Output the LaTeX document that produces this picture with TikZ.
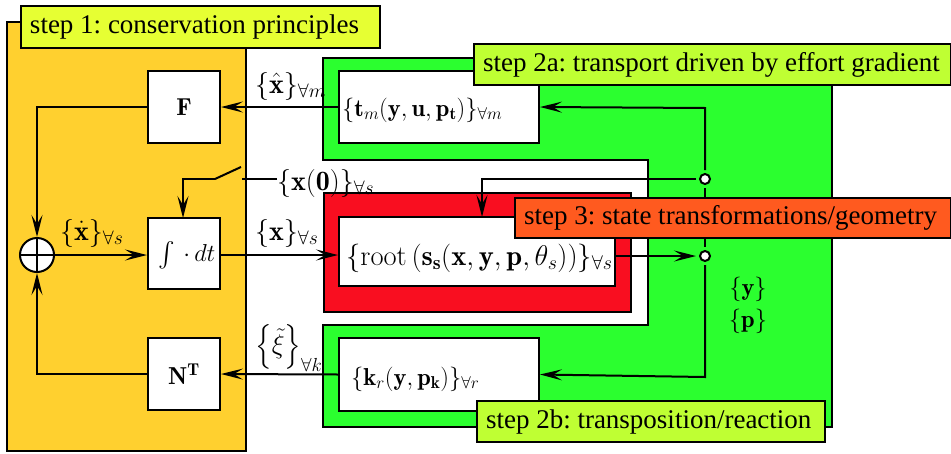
\RequirePackage{fix-cm}
\documentclass[tikz,border=0pt]{standalone}
\usepackage{fontspec}
\usepackage{amsmath}
\newfontfamily\labfont{Liberation Serif}
\usetikzlibrary{arrows.meta}
\definecolor{cyel}{RGB}{255,208,47}
\definecolor{cgreen}{RGB}{43,255,47}
\definecolor{cred}{RGB}{249,14,32}
\definecolor{lab1}{RGB}{230,255,51}
\definecolor{lab2}{RGB}{191,255,51}
\definecolor{lab3}{RGB}{255,90,31}
\frenchspacing
\tikzset{
  blk/.style={draw=black, line width=2pt},
  wbox/.style={draw=black, line width=2pt, fill=white},
  steplabel/.style={draw=black, line width=2pt, anchor=north west, inner xsep=9pt, inner ysep=0pt, font=\labfont\fontsize{27}{32}\selectfont, text height=19pt, text depth=6pt},
  mtext/.style={inner sep=0pt, font=\fontsize{24.5}{30}\selectfont},
  otext/.style={inner sep=0pt, font=\fontsize{28}{34}\selectfont},
  conn/.style={draw=black, line width=2pt, -{Stealth[length=22pt,width=11pt,inset=9pt]}},
  plain/.style={draw=black, line width=2pt},
  junc/.style={circle, draw=black, line width=2pt, fill=white, minimum size=10pt, inner sep=0pt},
}
\begin{document}
\begin{tikzpicture}[x=1pt,y=-1pt]
\useasboundingbox (0,0) rectangle (951,453);
% step 1 area
\path[blk, fill=cyel] (7,22) rectangle (246,451);
\node[steplabel, fill=lab1, minimum width=359pt, minimum height=42pt] (s1) at (20,5) {\makebox[341pt][l]{step 1: conservation principles}};
% green area
\path[blk, fill=cgreen] (323,58) -- (832,58) -- (832,427) -- (323,427) -- (323,325) -- (648,325) -- (648,160) -- (323,160) -- cycle;
% red area
\path[blk, fill=cred] (324,193) rectangle (631,312);
% boxes
\node[wbox, minimum width=72pt, minimum height=72pt, inner sep=0pt] (F) at (184,107) {};
\node[mtext] at (F) {$\mathbf{F}$};
\node[wbox, minimum width=72pt, minimum height=71pt, inner sep=0pt] (I) at (184,253.5) {};
\node[mtext, anchor=center] (Itxt) at (187,255) {$\int\,\cdot\, dt$};
\node[wbox, minimum width=72pt, minimum height=72pt, inner sep=0pt] (N) at (184,374) {};
\node[mtext] at (N) {$\mathbf{N}^{\mathbf{T}}$};
\node[circle, draw=black, line width=2pt, fill=white, minimum size=34pt, inner sep=0pt] (sum) at (37,255) {};
\draw[line width=2pt] (sum.north) -- (sum.south) (sum.west) -- (sum.east);

\node[wbox, minimum width=200pt, minimum height=72pt, inner sep=0pt] (T) at (439,107) {};
\node[mtext, anchor=west] at (342,110) {$\{\mathbf{t}_m(\mathbf{y},\mathbf{u},\mathbf{p}_{\mathbf{t}})\}_{\forall m}$};
\node[wbox, minimum width=276pt, minimum height=69pt, inner sep=0pt] (R) at (477,251.5) {};
\node[otext, anchor=west, font=\fontsize{28.5}{34}\selectfont] at (346,258) {$\{\mathrm{root}\left(\mathbf{s}_{\mathbf{s}}(\mathbf{x},\mathbf{y},\mathbf{p},\theta_s)\right)\}_{\forall s}$};
\node[wbox, minimum width=200pt, minimum height=73pt, inner sep=0pt] (K) at (439,374.5) {};
\node[mtext, anchor=west] at (351,379) {$\{\mathbf{k}_r(\mathbf{y},\mathbf{p}_{\mathbf{k}})\}_{\forall r}$};

% junctions
\node[junc] (j1) at (705,179) {};
\node[junc] (j2) at (705,256) {};
\draw[plain, shorten <=3pt, shorten >=3pt] (j1) -- (j2);

% labels
\node[otext, anchor=west] at (255,86) {$\{\hat{\mathbf{x}}\}_{\forall m}$};
\node[otext, anchor=west] at (60,233) {$\{\dot{\mathbf{x}}\}_{\forall s}$};
\node[otext, anchor=west] at (255,233) {$\{\mathbf{x}\}_{\forall s}$};
\node[otext, anchor=west, font=\fontsize{27}{32}\selectfont] at (255,347) {$\Bigl\{\tilde{\xi}\Bigr\}_{\forall k}$};
\node[otext, anchor=west] (x0) at (277,183) {$\{\mathbf{x}(\mathbf{0})\}_{\forall s}$};
\node[mtext] at (748,289) {$\{\mathbf{y}\}$};
\node[mtext] at (748,321) {$\{\mathbf{p}\}$};

% connectors
\draw[conn] (T.west) -- (F.east);
\draw[conn] (K.west) -- (N.east);
\draw[conn] (sum.east) -- (I.west |- sum.east);
\draw[conn] (I.east |- sum.east) -- (R.west |- sum.east);
\draw[conn] (F.west) -| (sum.north);
\draw[conn] (N.west) -| (sum.south);
\coordinate (sw1) at (242,179);
\coordinate (sw2) at (215,179);
\coordinate (sw3) at (241,167);
\draw[plain] (x0.west |- sw1) -- (sw1);
\draw[plain] (sw3) -- (sw2);
\draw[conn] (sw2) -- (183,179) -- (183,218);
\draw[conn, shorten <=3pt] (j1.north) -- (705,108) -- (T.east);
\draw[conn, shorten <=3pt] (j1.west) -- (482,179) -- (482,217);
\draw[conn, shorten >=3pt] (615,256) -- (j2.west);
\draw[conn, shorten <=3pt] (j2.south) -- (705,377) -- (K.east);

% step labels
\node[steplabel, fill=lab2, minimum width=477pt, minimum height=41pt] (s2a) at (473,43) {\makebox[459pt][l]{step 2a: transport driven by effort gradient}};
\node[steplabel, fill=lab3, minimum width=436pt, minimum height=40pt] (s3) at (514,197) {\makebox[418pt][l]{step 3: state transformations/geometry}};
\node[steplabel, fill=lab2, minimum width=348pt, minimum height=41pt] (s2b) at (476,400) {\makebox[330pt][l]{step 2b: transposition/reaction}};
\end{tikzpicture}
\end{document}
